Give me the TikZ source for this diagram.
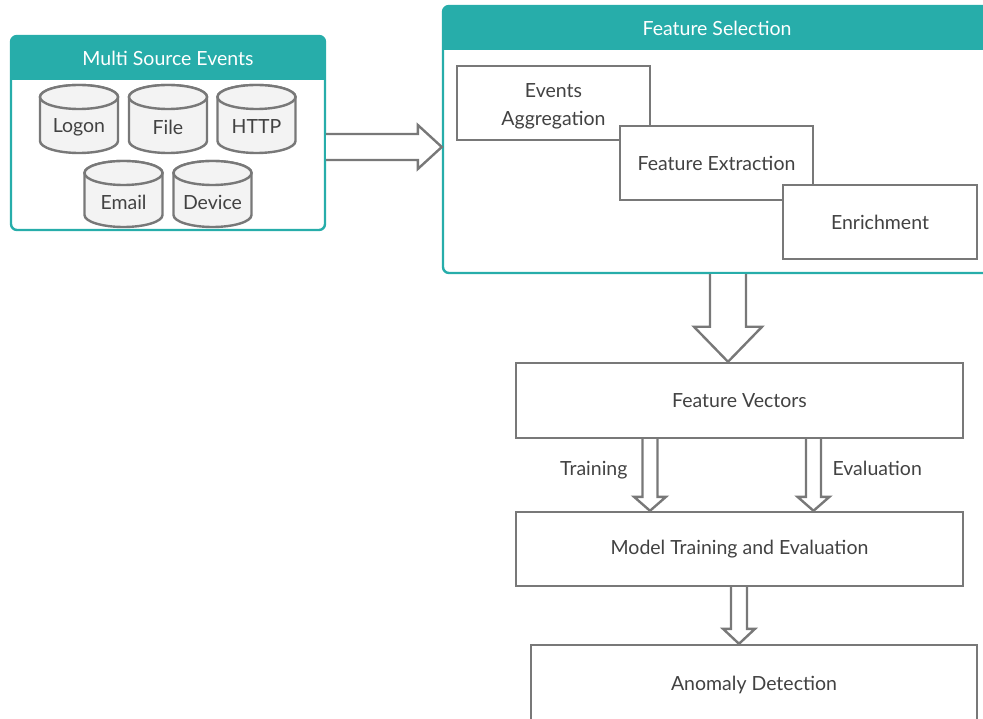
\documentclass[tikz,border=0pt]{standalone}
\usepackage{fontspec}
\setmainfont{Lato}
\usetikzlibrary{calc}
\definecolor{tealc}{HTML}{27ADAA}
\definecolor{edgec}{HTML}{787878}
\definecolor{inkc}{HTML}{424242}
\definecolor{dbfill}{HTML}{F3F3F3}

% database cylinder: name, centre x, top y, bottom y, label
\newcommand\dbcyl[5]{%
  \draw[dbshape] (#2-39,#3+12) -- (#2-39,#4-12)
    arc[start angle=180,end angle=0,x radius=39,y radius=12]
    -- (#2+39,#3+12)
    arc[start angle=0,end angle=-180,x radius=39,y radius=12] -- cycle;
  \draw[dbshape] (#2,#3+12) ellipse[x radius=39,y radius=12];
  \node[txt] (#1) at (#2,{(#3+#4)/2+8}) {#5};
}
% hollow block arrow pointing down: start, end, shaft half width, head half width, head length
\newcommand\hollowdown[5]{%
  \draw[blockarrow] let \p1=#1, \p2=#2 in
    (\x1-#3pt,\y1) -- (\x1-#3pt,\y2+#5pt) -- (\x1-#4pt,\y2+#5pt) -- (\x1,\y2)
    -- (\x1+#4pt,\y2+#5pt) -- (\x1+#3pt,\y2+#5pt) -- (\x1+#3pt,\y1);
}
% hollow block arrow pointing right
\newcommand\hollowright[5]{%
  \draw[blockarrow] let \p1=#1, \p2=#2 in
    (\x1,\y1+#3pt) -- (\x2-#5pt,\y1+#3pt) -- (\x2-#5pt,\y1+#4pt) -- (\x2,\y1)
    -- (\x2-#5pt,\y1-#4pt) -- (\x2-#5pt,\y1-#3pt) -- (\x1,\y1-#3pt);
}

\begin{document}
\begin{tikzpicture}[x=1pt,y=-1pt,
  txt/.style={text=inkc,font=\fontsize{19.5}{28}\selectfont},
  stepbox/.style={txt,draw=edgec,line width=2.4pt,fill=white,align=center,inner sep=0pt},
  container/.style={draw=tealc,line width=2.4pt,rounded corners=6pt,inner sep=0pt},
  headtitle/.style={text=white,font=\fontsize{19.5}{28}\selectfont},
  dbshape/.style={draw=edgec,line width=2.4pt,fill=dbfill},
  blockarrow/.style={draw=edgec,line width=2.4pt,fill=white,line join=miter}
]
\useasboundingbox (0,0) rectangle (983,719);
\clip (0,0) rectangle (983,719);

% ---- Multi Source Events container
\begin{scope}
  \clip[rounded corners=6pt] (11,36) rectangle (325,230);
  \fill[tealc] (11,36) rectangle (325,80);
\end{scope}
\node[container,minimum width=314pt,minimum height=194pt] (mse) at (168,133) {};
\node[headtitle] (mset) at (168,58) {Multi Source Events};

\dbcyl{logon}{79}{85}{153}{Logon}
\dbcyl{file}{168}{85}{153}{File}
\dbcyl{http}{256.5}{85}{153}{HTTP}
\dbcyl{email}{123.5}{161}{227}{Email}
\dbcyl{device}{212.5}{161}{227}{Device}

% ---- Feature Selection container (runs past the right edge)
\begin{scope}
  \clip[rounded corners=6pt] (443,6) rectangle (1010,273);
  \fill[tealc] (443,6) rectangle (1010,50);
\end{scope}
\node[container,minimum width=567pt,minimum height=267pt] (fs) at (726.5,139.5) {};
\node[headtitle] (fst) at (717,28) {Feature Selection};

\node[stepbox,minimum width=193pt,minimum height=74pt] (agg) at (553.5,103)
  {\raisebox{0pt}[\dimexpr\height+6pt\relax]{Events}\\Aggregation};
\node[stepbox,minimum width=193pt,minimum height=74pt] (ext) at (716.5,163) {Feature Extraction};
\node[stepbox,minimum width=194pt,minimum height=74pt] (enr) at (880,222) {Enrichment};

% ---- pipeline boxes
\node[stepbox,minimum width=447pt,minimum height=75pt] (fv) at (739.5,400.5) {Feature Vectors};
\node[stepbox,minimum width=447pt,minimum height=74pt] (mt) at (739.5,549) {Model Training and Evaluation};
\node[stepbox,minimum width=446pt,minimum height=80pt] (ad) at (754,685) {Anomaly Detection};

% ---- arrow positions
\coordinate (xsel) at (728,0);
\coordinate (xtrain) at (650,0);
\coordinate (xeval) at (813.5,0);
\coordinate (xdet) at (739,0);
\coordinate (ymse) at (0,147);

% ---- block arrows
\hollowright{(mse.east |- ymse)}{(fs.west |- ymse)}{13}{22}{24}
\hollowdown{(fs.south -| xsel)}{(fv.north -| xsel)}{18}{34}{35}
\hollowdown{(fv.south -| xtrain)}{(mt.north -| xtrain)}{7.5}{16}{14}
\hollowdown{(fv.south -| xeval)}{(mt.north -| xeval)}{7.5}{16}{14}
\hollowdown{(mt.south -| xdet)}{(ad.north -| xdet)}{8}{16}{15}

\node[txt,anchor=base east] (trl) at (631,475) {Training};
\node[txt,anchor=base west] (evl) at (829,475) {Evaluation};
\end{tikzpicture}
\end{document}
